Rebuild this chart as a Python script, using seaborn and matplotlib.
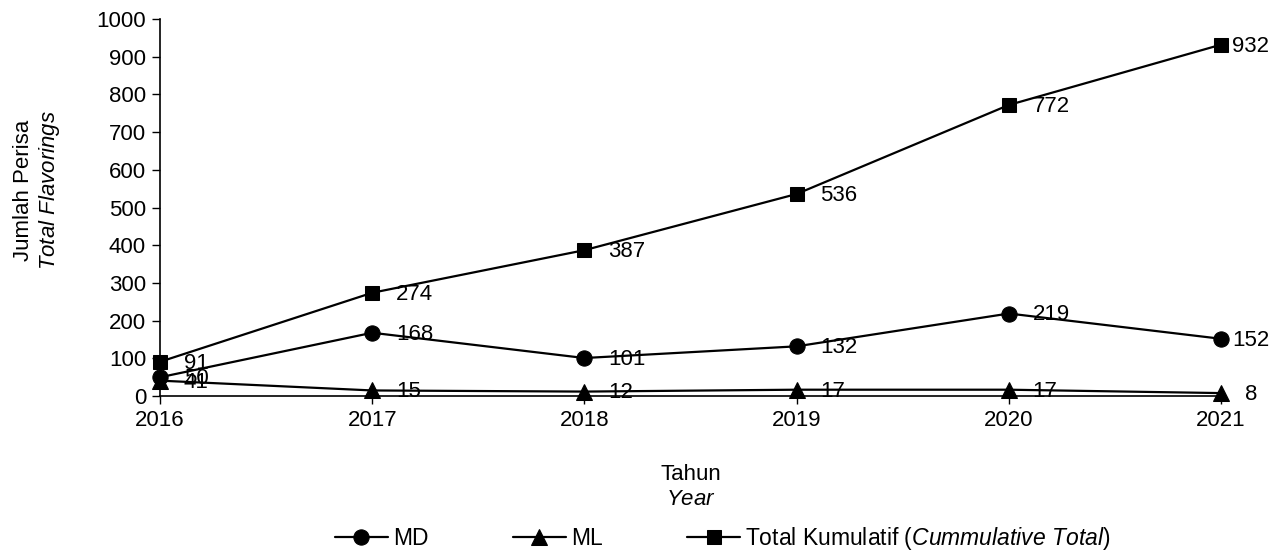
import matplotlib
matplotlib.use("Agg")
import matplotlib.pyplot as plt
import pandas as pd
import seaborn as sns

years = [2016, 2017, 2018, 2019, 2020, 2021]
md = [50, 168, 101, 132, 219, 152]
ml = [41, 15, 12, 17, 17, 8]
total = [91, 274, 387, 536, 772, 932]

series = [
    ("MD", md, "o", 11),
    ("ML", ml, "^", 11),
    ("Total Kumulatif ($\\it{Cummulative\\ Total}$)", total, "s", 10),
]

sns.set_style("ticks")
plt.rcParams["font.family"] = ["Liberation Sans", "DejaVu Sans"]
plt.rcParams["mathtext.fontset"] = "custom"
plt.rcParams["mathtext.rm"] = "Liberation Sans"
plt.rcParams["mathtext.it"] = "Liberation Sans:italic"
plt.rcParams["text.color"] = "black"
plt.rcParams["axes.labelcolor"] = "black"
plt.rcParams["xtick.color"] = "black"
plt.rcParams["ytick.color"] = "black"

FS = 16

fig, ax = plt.subplots(figsize=(12.84, 5.54), dpi=100)
fig.subplots_adjust(left=0.1246, right=0.951, top=0.9657, bottom=0.285)

for name, vals, mk, ms in series:
    df = pd.DataFrame({"year": years, "value": vals})
    sns.lineplot(data=df, x="year", y="value", ax=ax, color="black", marker=mk,
                 markersize=ms, linewidth=1.6, markeredgecolor="black",
                 label=name, clip_on=False, zorder=3)
    for i, (x, v) in enumerate(zip(years, vals)):
        # Excel squeezes the last labels that would run off the plot
        dx = 8 if (i == len(years) - 1 and v > 100) else 17
        ax.annotate(str(v), (x, v), xytext=(dx, -1), textcoords="offset points",
                    ha="left", va="center", fontsize=FS, color="black")

ax.set_xlim(2016, 2021)
ax.set_ylim(0, 1000)
ax.set_yticks(range(0, 1001, 100))
ax.set_xticks(years)
ax.tick_params(labelsize=FS, length=6, width=1, colors="black", pad=4)
ax.set_xlabel("Tahun\n$\\it{Year}$", fontsize=FS)
ax.xaxis.set_label_coords(0.5, -0.181)
ax.set_ylabel("Jumlah Perisa\n$\\it{Total\\ Flavorings}$", fontsize=FS)
ax.yaxis.set_label_coords(-0.092, 0.546)
for s in ["left", "bottom"]:
    ax.spines[s].set_color("black")
    ax.spines[s].set_linewidth(1.2)
sns.despine(ax=ax)

ax.legend(loc="center left", bbox_to_anchor=(0.165, -0.377), ncol=3, frameon=False,
          fontsize=16.5, columnspacing=3.7, handlelength=2.3, handletextpad=0.22,
          borderaxespad=0, borderpad=0)

fig.savefig("out.png", dpi=100)
